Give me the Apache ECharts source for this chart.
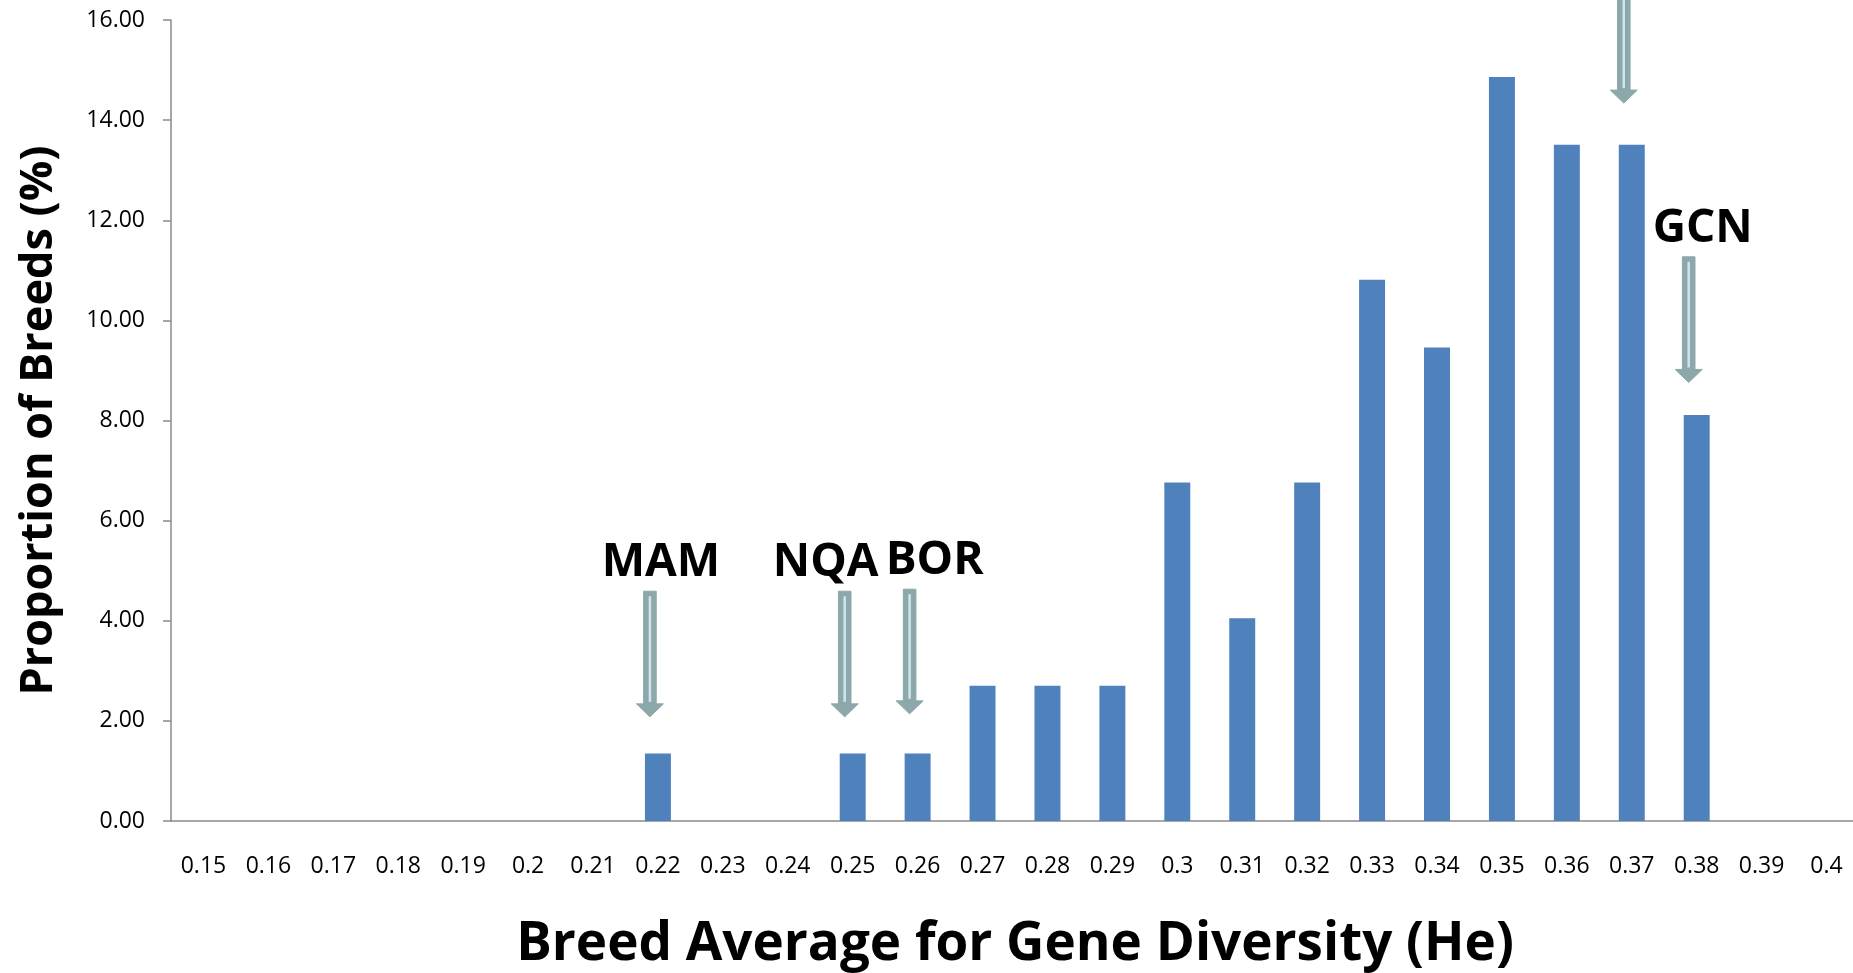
<!DOCTYPE html>
<html>
<head>
<meta charset="utf-8">
<script src="https://cdn.jsdelivr.net/npm/echarts@6/dist/echarts.min.js"></script>
<style>
  html, body { margin: 0; padding: 0; background: #fff; }
  #main { width: 1853px; height: 973px; }
</style>
</head>
<body>
<div id="main"></div>
<script>
var categories = ['0.15', '0.16', '0.17', '0.18', '0.19', '0.2', '0.21', '0.22', '0.23', '0.24',
    '0.25', '0.26', '0.27', '0.28', '0.29', '0.3', '0.31', '0.32', '0.33', '0.34',
    '0.35', '0.36', '0.37', '0.38', '0.39', '0.4'];
var proportions = [0, 0, 0, 0, 0, 0, 0, 1.35, 0, 0,
    1.35, 1.35, 2.70, 2.70, 2.70, 6.76, 4.05, 6.76, 10.81, 9.46,
    14.86, 13.51, 13.51, 8.11, 0, 0];
var yTicks = [0, 2, 4, 6, 8, 10, 12, 14, 16];

// arrows pointing at breeds (value axis units)
var arrowCats = ['0.22', '0.25', '0.26', '0.37', '0.38'];
var arrowTop = [4.59, 4.59, 4.63, 17, 11.27];
var arrowTip = [2.08, 2.08, 2.14, 14.34, 8.76];
var arrowNames = ['MAM', 'NQA', 'BOR', '', 'GCN'];

// horizontal nudge of each label from its arrow (px)
var labelShift = { MAM: 11, NQA: -19, BOR: 25, GCN: 14 };

var chartDom = document.getElementById('main');
var myChart = echarts.init(chartDom);
var option;

var font = "'Open Sans', 'Noto Sans', sans-serif";

function renderArrow(params, api) {
    var top = api.coord([api.value(0), api.value(1)]);
    var tip = api.coord([api.value(0), api.value(2)]);
    var x = top[0] - 8;
    var y0 = top[1], y1 = tip[1];
    var sw = 6.3, hw = 13.5, hh = 13;
    var name = arrowNames[params.dataIndex];
    var children = [
        {
            type: 'polygon',
            shape: {
                points: [[x - sw, y0], [x + sw, y0], [x + sw, y1 - hh], [x + hw, y1 - hh],
                    [x, y1], [x - hw, y1 - hh], [x - sw, y1 - hh]]
            },
            style: { fill: '#8DA8AA', stroke: '#8DA8AA', lineWidth: 1 }
        },
        {
            type: 'line',
            shape: { x1: x, y1: y0 + 5, x2: x, y2: y1 - hh - 2 },
            style: { stroke: '#CDE6EA', lineWidth: 2.5 }
        }
    ];
    if (name) {
        children.push({
            type: 'text',
            style: {
                x: x + (labelShift[name] || 0),
                y: y0 - 28,
                text: name,
                fill: '#000',
                font: 'bold 46px ' + font,
                align: 'center',
                verticalAlign: 'middle'
            }
        });
    }
    return { type: 'group', children: children };
}

option = {
    animation: false,
    backgroundColor: '#fff',
    grid: { left: 171, top: 20, width: 1688, bottom: 152, outerBoundsMode: 'none' },
    xAxis: {
        type: 'category',
        data: categories,
        name: 'Breed Average for Gene Diversity (He)',
        nameLocation: 'middle',
        nameGap: 97,
        nameTextStyle: { fontFamily: font, fontWeight: 'bold', fontSize: 53, color: '#000' },
        axisLine: { lineStyle: { color: '#8A8A8A', width: 1.5 } },
        axisTick: { interval: 0, length: 9, lineStyle: { color: '#8A8A8A', width: 1.5 } },
        axisLabel: { interval: 0, margin: 34, fontFamily: font, fontSize: 23, color: '#000' }
    },
    yAxis: {
        type: 'value',
        min: 0,
        max: 16,
        interval: 2,
        name: 'Proportion of Breeds (%)',
        nameLocation: 'middle',
        nameGap: 109,
        nameTextStyle: { fontFamily: font, fontWeight: 'bold', fontSize: 45, color: '#000' },
        splitLine: { show: false },
        axisLine: { show: true, lineStyle: { color: '#8A8A8A', width: 1.5 } },
        axisTick: { show: true, length: 8, lineStyle: { color: '#8A8A8A', width: 1.5 } },
        axisLabel: {
            margin: 26, fontFamily: font, fontSize: 23, color: '#000',
            formatter: function (v) { return yTicks.indexOf(v) >= 0 ? v.toFixed(2) : ''; }
        }
    },
    series: [
        {
            type: 'bar',
            data: proportions,
            barWidth: '40%',
            itemStyle: { color: '#4F81BD' }
        },
        {
            type: 'custom',
            clip: false,
            renderItem: renderArrow,
            data: arrowCats.map(function (c, i) { return [c, arrowTop[i], arrowTip[i]]; }),
            z: 5
        }
    ]
};

option && myChart.setOption(option);
window.onresize = function () {
    myChart.resize();
};
</script>
</body>
</html>
